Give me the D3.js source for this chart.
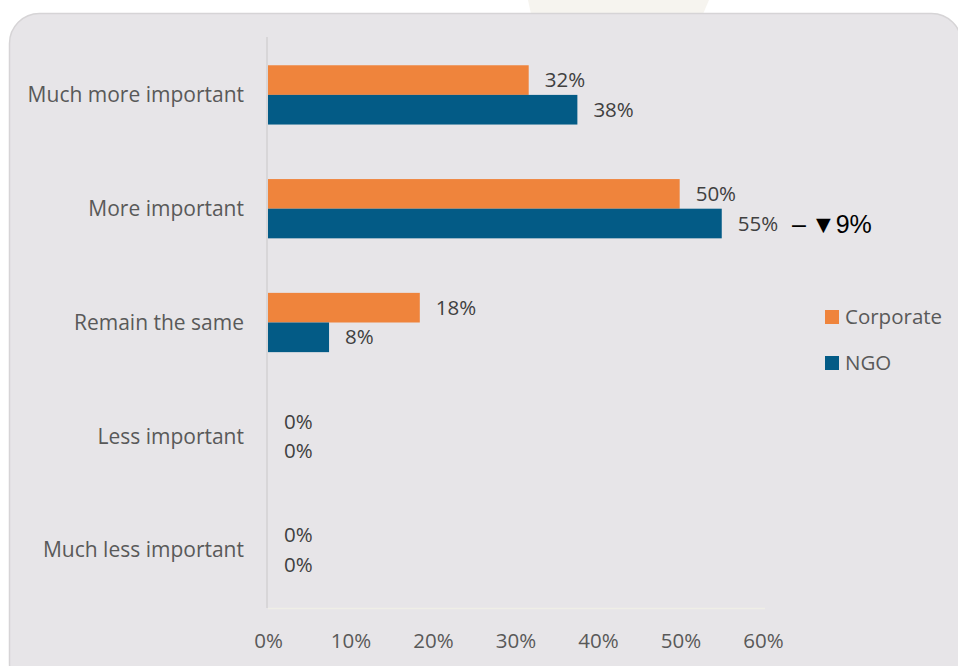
<!DOCTYPE html>
<html>
<head>
<meta charset="utf-8">
<script src="https://cdn.jsdelivr.net/npm/d3@7"></script>
<style>
  html, body { margin: 0; padding: 0; background: #fff; }
  svg { display: block; }
</style>
</head>
<body>
<div id="chart"></div>
<script>
// Barres horizontales groupées : Corporate vs NGO par niveau d'importance.

const categories = ["Much more important", "More important", "Remain the same", "Less important", "Much less important"]
const seriesNames = ["Corporate", "NGO"]
const corporate = [31.6, 49.9, 18.4, 0, 0]
const ngo = [37.5, 55.0, 7.4, 0, 0]
const corporateLabels = ["32%", "50%", "18%", "0%", "0%"]
const ngoLabels = ["38%", "55%", "8%", "0%", "0%"]
const xTicks = [0, 10, 20, 30, 40, 50, 60]

const W = 958, H = 666
const colors = { Corporate: "#EF843C", NGO: "#035B86" }
const font = "'Open Sans', 'Noto Sans', sans-serif"
const fs = 20.5

const rows = categories.map((c, i) => ({
  cat: c,
  bars: [
    { s: "Corporate", v: corporate[i], label: corporateLabels[i] },
    { s: "NGO", v: ngo[i], label: ngoLabels[i] },
  ],
}))

const svg = d3.select("#chart").append("svg")
  .attr("width", W).attr("height", H)
  .attr("viewBox", `0 0 ${W} ${H}`)

// fond blanc + forme beige rognée en haut
svg.append("rect").attr("width", W).attr("height", H).attr("fill", "#fff")
svg.append("path")
  .attr("d", "M528,0 L709,0 L703,14 L531,14 Z")
  .attr("fill", "#f6f4ef")

// panneau gris arrondi
svg.append("rect")
  .attr("x", 9.5).attr("y", 13.5)
  .attr("width", 952).attr("height", 680)
  .attr("rx", 30)
  .attr("fill", "#E7E5E8")
  .attr("stroke", "#D6D4D6").attr("stroke-width", 1.5)

const x = d3.scaleLinear().domain([0, 60]).range([268, 763])
const y = d3.scaleBand().domain(categories).range([38, 607]).paddingInner(0)
const y1 = d3.scaleBand().domain(seriesNames).range([0, y.bandwidth()]).paddingInner(0).paddingOuter(0.92)
const bh = y1.bandwidth()

// ligne de base et axe vertical
svg.append("line")
  .attr("x1", x(0)).attr("x2", x(60) + 2)
  .attr("y1", 608.5).attr("y2", 608.5)
  .attr("stroke", "#EFEEE6").attr("stroke-width", 1.5)
svg.append("line")
  .attr("x1", 267).attr("x2", 267)
  .attr("y1", 37).attr("y2", 608)
  .attr("stroke", "#D3D1D3").attr("stroke-width", 1.5)

// ticks X
svg.append("g")
  .attr("transform", "translate(0,641)")
  .call(d3.axisBottom(x).tickValues(xTicks).tickSize(0).tickPadding(0).tickFormat((d) => d + "%"))
  .call((g) => g.select(".domain").remove())
  .call((g) => g.selectAll("text")
    .attr("dy", "0.35em")
    .attr("font-family", font).attr("font-size", fs)
    .attr("fill", "#595959"))

// labels catégories
svg.selectAll("text.cat")
  .data(categories)
  .join("text")
  .attr("class", "cat")
  .attr("x", 244)
  .attr("y", (d) => y(d) + y.bandwidth() / 2)
  .attr("dy", "0.35em")
  .attr("text-anchor", "end")
  .attr("font-family", font).attr("font-size", 21)
  .attr("fill", "#595959")
  .text((d) => d)

// barres
const rowG = svg.selectAll("g.row")
  .data(rows)
  .join("g")
  .attr("class", "row")
  .attr("transform", (d) => `translate(0,${y(d.cat)})`)

rowG.selectAll("rect")
  .data((d) => d.bars)
  .join("rect")
  .attr("x", x(0))
  .attr("y", (d) => y1(d.s))
  .attr("width", (d) => x(d.v) - x(0))
  .attr("height", bh)
  .attr("fill", (d) => colors[d.s])

rowG.selectAll("text.val")
  .data((d) => d.bars)
  .join("text")
  .attr("class", "val")
  .attr("x", (d) => x(d.v) + 16)
  .attr("y", (d) => y1(d.s) + bh / 2)
  .attr("dy", "0.35em")
  .attr("font-family", font).attr("font-size", fs)
  .attr("fill", "#404040")
  .text((d) => d.label)

// annotation « – ▼9% » à côté de la barre NGO de « More important »
svg.append("text")
  .attr("x", 792)
  .attr("y", y("More important") + y1("NGO") + bh / 2)
  .attr("dy", "0.36em")
  .attr("font-family", "'Liberation Sans', Arial, sans-serif")
  .attr("font-size", 25)
  .attr("fill", "#000")
  .text("–\u2009▼9%")

// légende
const legend = svg.append("g")
const legendY = [317, 363]
seriesNames.forEach((s, i) => {
  legend.append("rect")
    .attr("x", 825).attr("y", legendY[i] - 7)
    .attr("width", 14).attr("height", 14)
    .attr("fill", colors[s])
  legend.append("text")
    .attr("x", 845).attr("y", legendY[i])
    .attr("dy", "0.35em")
    .attr("font-family", font).attr("font-size", fs)
    .attr("fill", "#595959")
    .text(s)
})
</script>
</body>
</html>
